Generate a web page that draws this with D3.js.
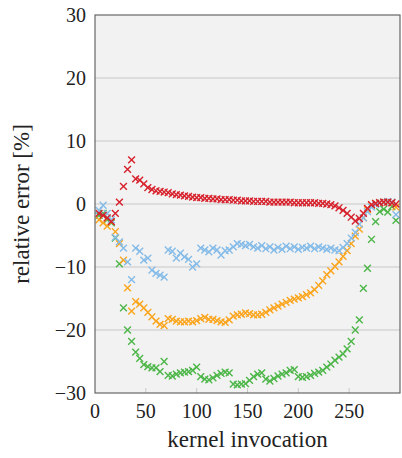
<!DOCTYPE html>
<html lang="en">
<head>
<meta charset="utf-8">
<title>relative error</title>
<script src="https://cdn.jsdelivr.net/npm/d3@7"></script>
<style>
	body { margin: 0; background: white; }
	text { font-family: "Liberation Serif", "DejaVu Serif", serif; fill: #222; }
</style>
</head>
<body>
<div id="chart"></div>
<script>
// kernel invocation index (x) shared by all series
var invocations = [4,8,12,16,20,24,28,32,36,40,44,48,52,56,60,64,68,72,76,80,84,88,92,96,100,
	104,108,112,116,120,124,128,132,136,140,144,148,152,156,160,164,168,172,176,180,184,188,192,196,200,
	204,208,212,216,220,224,228,232,236,240,244,248,252,256,260,264,268,272,276,280,284,288,292,296]

// relative error in %, one array per series
var redErr = [-1.5,-1.8,-2.2,-2.8,-1.5,0.3,2.8,5.5,7.0,4.0,3.8,3.2,2.6,2.3,2.1,2.0,1.9,1.8,1.6,1.5,1.4,1.3,1.2,1.1,1.0,
	1.0,0.9,0.9,0.8,0.8,0.7,0.7,0.7,0.6,0.6,0.5,0.5,0.5,0.4,0.4,0.4,0.4,0.3,0.3,0.3,0.3,0.3,0.3,0.2,0.2,
	0.2,0.2,0.2,0.2,0.1,0.1,0.0,-0.1,-0.3,-0.6,-1.0,-1.5,-2.1,-2.7,-2.3,-1.5,-0.7,-0.1,0.1,0.2,0.3,0.3,0.2,0.0]
var blueErr = [-1.0,-0.2,-1.5,-2.5,-5.3,-6.0,-7.0,-9.2,-12.0,-7.0,-7.5,-8.9,-8.6,-10.5,-11.0,-11.3,-11.6,-7.3,-7.5,-8.6,-7.8,-8.4,-8.8,-10.0,-9.5,
	-7.0,-7.3,-7.6,-7.0,-7.3,-8.1,-7.4,-7.3,-6.8,-6.3,-6.4,-6.6,-6.4,-6.8,-7.0,-6.6,-7.1,-6.8,-7.3,-6.9,-7.2,-6.7,-7.1,-6.8,-7.2,
	-6.9,-7.0,-6.7,-7.1,-6.8,-7.0,-7.2,-7.0,-7.3,-7.4,-6.9,-6.3,-5.4,-4.5,-3.2,-2.2,-1.2,-0.5,-0.1,0.2,0.3,0.4,0.3,-1.7]
var orangeErr = [-2.5,-3.0,-3.5,-2.8,-4.4,-6.3,-8.9,-13.3,-17.0,-15.5,-15.9,-16.5,-17.2,-17.9,-18.6,-19.1,-19.3,-18.2,-18.3,-18.6,-18.7,-18.7,-18.6,-18.7,-18.5,
	-18.2,-18.0,-18.3,-18.3,-18.5,-18.7,-18.8,-18.4,-17.8,-17.6,-17.5,-17.3,-17.4,-17.6,-17.6,-17.5,-17.2,-16.8,-16.5,-16.2,-15.9,-15.6,-15.3,-15.1,-14.9,
	-14.7,-14.4,-14.1,-13.6,-12.9,-12.2,-11.2,-10.6,-9.9,-9.2,-8.3,-7.4,-6.3,-5.1,-4.0,-2.2,-0.9,-0.2,0.1,0.2,0.3,0.3,0.2,-0.5]
var greenErr = [-1.8,-1.5,-2.5,-3.0,-5.4,-9.5,-16.5,-20.0,-21.8,-23.5,-24.5,-25.5,-25.8,-26.0,-26.0,-26.6,-25.0,-27.2,-27.3,-27.0,-26.8,-26.7,-26.6,-26.4,-25.9,
	-27.4,-27.8,-27.9,-27.6,-27.2,-26.9,-26.7,-26.8,-28.6,-28.7,-28.6,-28.5,-28.0,-27.4,-27.0,-26.8,-27.8,-28.1,-27.7,-27.3,-27.0,-26.8,-26.4,-26.3,-27.4,
	-27.5,-27.4,-27.2,-26.9,-26.7,-26.4,-25.9,-25.4,-24.8,-24.3,-23.8,-23.0,-21.8,-20.0,-18.4,-13.4,-10.2,-5.6,-2.8,-1.2,-0.8,-1.3,-0.4,-2.6]

var xTicks = [0,50,100,150,200,250]
var yTicks = [-30,-20,-10,0,10,20,30]

// drawing order: bottom to top
var seriesList = [
	{name: "green", vals: greenErr, color: "#4cb648"},
	{name: "orange", vals: orangeErr, color: "#fba51d"},
	{name: "blue", vals: blueErr, color: "#84bbe8"},
	{name: "red", vals: redErr, color: "#d7202b"}
]

var W = 402, H = 458
var m = {left: 95, right: 2, top: 15, bottom: 65}
var pw = W - m.left - m.right
var ph = H - m.top - m.bottom

var svg = d3.select("#chart").append("svg").attr("width", W).attr("height", H)
var g = svg.append("g").attr("transform", "translate(" + m.left + "," + m.top + ")")

var x = d3.scaleLinear().domain([0, 300]).range([0, pw])
var y = d3.scaleLinear().domain([-30, 30]).range([ph, 0])

g.append("rect").attr("width", pw).attr("height", ph).attr("fill", "#f2f2f2")

// horizontal grid
g.selectAll(".grid").data(yTicks.slice(1, -1)).enter().append("line")
	.attr("x1", 0).attr("x2", pw)
	.attr("y1", function(d) { return y(d) }).attr("y2", function(d) { return y(d) })
	.attr("stroke", "#c8c8c8").attr("stroke-width", 1)

// inward ticks on bottom
g.selectAll(".xtick").data(xTicks.slice(1)).enter().append("line")
	.attr("x1", function(d) { return x(d) }).attr("x2", function(d) { return x(d) })
	.attr("y1", ph).attr("y2", ph - 5)
	.attr("stroke", "#c8c8c8").attr("stroke-width", 1)

// markers
var half = 3.4
seriesList.forEach(function(s) {
	g.append("g").selectAll("path").data(invocations).enter().append("path")
		.attr("d", function(d, i) {
			var cx = x(d), cy = y(s.vals[i])
			return "M" + (cx - half) + "," + (cy - half) + "L" + (cx + half) + "," + (cy + half) +
				"M" + (cx - half) + "," + (cy + half) + "L" + (cx + half) + "," + (cy - half)
		})
		.attr("stroke", s.color).attr("stroke-width", 1.4).attr("fill", "none")
})

// frame
g.append("rect").attr("width", pw).attr("height", ph)
	.attr("fill", "none").attr("stroke", "#666").attr("stroke-width", 1.2)

// tick labels
var fmt = function(d) { return d < 0 ? "\u2212" + Math.abs(d) : String(d) }
g.selectAll(".ylab").data(yTicks).enter().append("text")
	.attr("x", -9).attr("y", function(d) { return y(d) + 7 })
	.attr("text-anchor", "end").attr("font-size", 20).text(fmt)
g.selectAll(".xlab").data(xTicks).enter().append("text")
	.attr("x", function(d) { return x(d) }).attr("y", ph + 25)
	.attr("text-anchor", "middle").attr("font-size", 20).text(fmt)

// axis titles
svg.append("text").attr("x", m.left + pw / 2).attr("y", 447)
	.attr("text-anchor", "middle").attr("font-size", 23).text("kernel invocation")
svg.append("text").attr("transform", "translate(29," + (m.top + ph / 2) + ") rotate(-90)")
	.attr("text-anchor", "middle").attr("font-size", 23).text("relative error [%]")
</script>
</body>
</html>
